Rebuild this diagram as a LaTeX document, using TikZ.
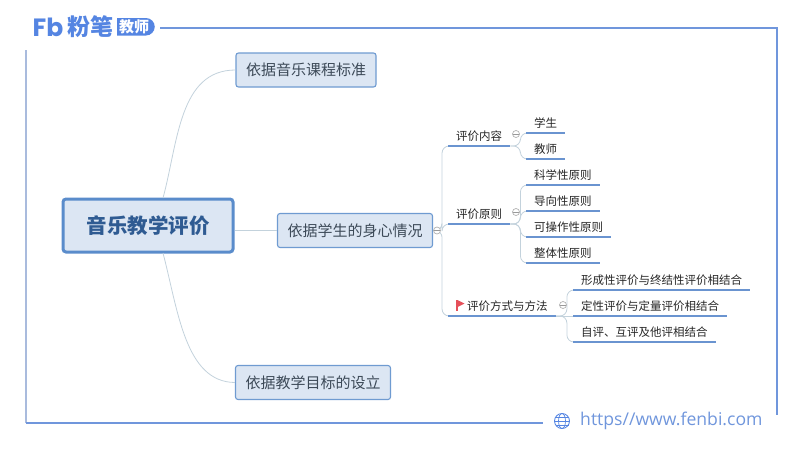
\documentclass[tikz,border=0pt]{standalone}
\usepackage{fontspec}
\setmainfont{Noto Sans CJK SC}
\newfontfamily\urlfont{Open Sans}
\newfontfamily\logofont{Poppins}
\definecolor{boxfill}{HTML}{DCE6F3}
\definecolor{boxline}{HTML}{6F9BD1}
\definecolor{rootline}{HTML}{5A8CCB}
\definecolor{rootink}{HTML}{2F5B92}
\definecolor{boxink}{HTML}{3D4A58}
\definecolor{leafline}{HTML}{6A94D0}
\definecolor{linkline}{HTML}{C3D2DC}
\definecolor{brandblue}{HTML}{5585E2}
\definecolor{frameblue}{HTML}{7096DC}
\definecolor{framepale}{HTML}{A9BBDD}
\definecolor{flagred}{HTML}{E5505A}
\begin{document}
\begin{tikzpicture}[x=1pt, y=-1pt,
  rootbox/.style={rectangle, draw=rootline, fill=boxfill, rounded corners=3pt, line width=3pt,
                  minimum width=170pt, minimum height=53pt, text=rootink,
                  font=\fontsize{20.5}{24}\selectfont\bfseries},
  topic/.style={rectangle, draw=boxline, fill=boxfill, rounded corners=2.5pt, line width=1.1pt,
                minimum height=34pt, text=boxink, font=\fontsize{15}{18}\selectfont},
  leaf/.style={rectangle, anchor=south west, inner ysep=0pt, inner xsep=8pt, minimum height=20pt,
               text=black!85, font=\fontsize{11.5}{14}\selectfont},
  uline/.style={draw=leafline, line width=1.6pt},
  link/.style={draw=linkline, line width=0.8pt},
  branch/.style={draw=linkline, line width=0.8pt, rounded corners=7pt},
  fold/.style={circle, draw=black!30, fill=white, line width=0.7pt, minimum size=7pt, inner sep=0pt,
               path picture={\draw[black!40, line width=0.5pt] (path picture bounding box.west) -- (path picture bounding box.east);}},
  frame/.style={draw=frameblue, line width=1.6pt}
]
  \useasboundingbox (0,0) rectangle (800,450);

  % Rahmen
  \coordinate (topleft) at (160,28);
  \coordinate (topright) at (777,28);
  \coordinate (rightend) at (777,415);
  \coordinate (leftstart) at (26,50);
  \coordinate (bottomleft) at (26,423);
  \coordinate (bottomend) at (543,423);
  \draw[frame] (topleft) -- (topright) -- (rightend);
  \draw[frame, draw=framepale] (leftstart) -- (bottomleft);
  \draw[frame] (bottomleft) -- (bottomend);

  % Logo
  \node[text=brandblue, font=\logofont\fontsize{25}{25}\selectfont\bfseries, inner sep=0pt] (logomark) at (48,27) {Fb};
  \node[text=brandblue, font=\fontsize{23}{24}\selectfont\bfseries, inner sep=0pt] (logoname) at (90,27) {粉笔};
  \fill[brandblue] (117,18) -- (146,18) arc (-90:90:8.75) -- (117,35.5) -- cycle;
  \node[text=white, font=\fontsize{15}{16}\selectfont\bfseries, inner sep=0pt] (logobadge) at (134,27) {教师};

  % Kernknoten
  \node[rootbox] (root) at (148,225.5) {\raisebox{-1.5pt}{音乐教学评价}};
  \node[topic, minimum width=140pt] (basis1) at (306,70) {依据音乐课程标准};
  \node[topic, minimum width=155pt] (basis2) at (355,230.5) {依据学生的身心情况};
  \node[topic, minimum width=155pt] (basis3) at (313,382.5) {依据教学目标的设立};

  % Zweite Ebene
  \node[leaf] (content) at (448,146) {\raisebox{1pt}{评价内容}};
  \node[leaf] (rules) at (448,224) {\raisebox{1pt}{评价原则}};
  \node[leaf] (methods) at (448,316) {\hspace*{11pt}\raisebox{1pt}{评价方式与方法}};

  % Blaetter
  \node[leaf] (student) at (526,133) {学生};
  \node[leaf] (teacher) at (526,159) {教师};
  \node[leaf] (rule1) at (526,185) {科学性原则};
  \node[leaf] (rule2) at (526,211) {导向性原则};
  \node[leaf] (rule3) at (526,237) {可操作性原则};
  \node[leaf] (rule4) at (526,263) {整体性原则};
  \node[leaf] (method1) at (573,290) {形成性评价与终结性评价相结合};
  \node[leaf] (method2) at (573,316) {定性评价与定量评价相结合};
  \node[leaf] (method3) at (573,342) {自评、互评及他评相结合};

  % Verbindungen
  \coordinate (rootup) at (163,198);
  \coordinate (rootdown) at (163,253);
  \draw[link] (rootup) .. controls (178,143) and (179,70) .. (basis1.west);
  \draw[link] (root.east |- basis2.west) -- (basis2.west);
  \draw[link] (rootdown) .. controls (178,310) and (185,382) .. (basis3.west);

  \draw[branch] (basis2.east) -- ++(9,0) |- (content.south west);
  \draw[branch] (basis2.east) -- ++(9,0) |- (rules.south west);
  \draw[branch] (basis2.east) -- ++(9,0) |- (methods.south west);

  \draw[branch] (content.south east) -- ++(10,0) |- (student.south west);
  \draw[branch] (content.south east) -- ++(10,0) |- (teacher.south west);
  \draw[branch] (rules.south east) -- ++(10,0) |- (rule1.south west);
  \draw[branch] (rules.south east) -- ++(10,0) |- (rule2.south west);
  \draw[branch] (rules.south east) -- ++(10,0) |- (rule3.south west);
  \draw[branch] (rules.south east) -- ++(10,0) |- (rule4.south west);
  \draw[branch] (methods.south east) -- ++(11,0) |- (method1.south west);
  \draw[link] (methods.south east) -- (method2.south west);
  \draw[branch] (methods.south east) -- ++(11,0) |- (method3.south west);

  % Unterstreichungen
  \draw[uline] (content.south west) -- (content.south east);
  \draw[uline] (rules.south west) -- (rules.south east);
  \draw[uline] (methods.south west) -- (methods.south east);
  \draw[uline] (student.south west) -- (student.south east);
  \draw[uline] (teacher.south west) -- (teacher.south east);
  \draw[uline] (rule1.south west) -- (rule1.south east);
  \draw[uline] (rule2.south west) -- (rule2.south east);
  \draw[uline] (rule3.south west) -- (rule3.south east);
  \draw[uline] (rule4.south west) -- (rule4.south east);
  \draw[uline] (method1.south west) -- (method1.south east);
  \draw[uline] (method2.south west) -- (method2.south east);
  \draw[uline] (method3.south west) -- (method3.south east);

  % Einklappen
  \node[fold] (fold0) at (437,230.5) {};
  \node[fold] (fold1) at (516,134) {};
  \node[fold] (fold2) at (516,212) {};
  \node[fold] (fold3) at (563,305) {};

  % Fahne
  \draw[flagred, line width=1.3pt] (457,300) -- (457,310.5);
  \fill[flagred] (457.5,300) -- (464.5,303.5) -- (457.5,307) -- cycle;

  % Fusszeile
  \draw[brandblue, line width=0.9pt] (562,421) circle (7.5);
  \draw[brandblue, line width=0.7pt] (562,421) ellipse (3.5 and 7.5);
  \draw[brandblue, line width=0.7pt] (554.5,421) -- (569.5,421);
  \draw[brandblue, line width=0.7pt] (555.5,417) -- (568.5,417);
  \draw[brandblue, line width=0.7pt] (555.5,425) -- (568.5,425);
  \node[anchor=west, inner sep=0pt, text=frameblue, font=\urlfont\fontsize{17.6}{20}\selectfont] (siteurl) at (580,421) {https//www.fenbi.com};
\end{tikzpicture}
\end{document}
